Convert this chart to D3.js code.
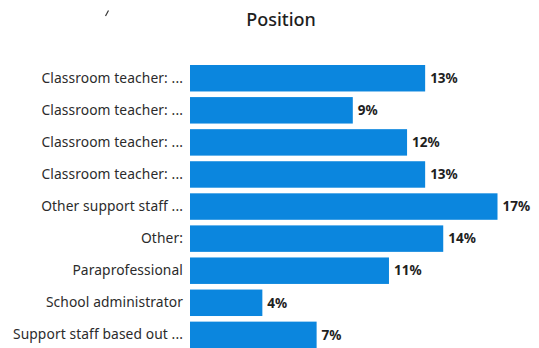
<!DOCTYPE html>
<html>
<head>
<meta charset="utf-8">
<script src="https://cdn.jsdelivr.net/npm/d3@7"></script>
<style>
  html, body { margin: 0; padding: 0; background: #ffffff; }
  svg { display: block; }
  .cat text { font-family: "Noto Sans", "Open Sans", sans-serif; font-size: 13.8px; fill: #2b2b2b; letter-spacing: 0.1px; }
  .val { font-family: "Noto Sans", "Open Sans", sans-serif; font-size: 13.5px; font-weight: 700; fill: #1e1e1e; }
  .title { font-family: "Noto Sans", "Open Sans", sans-serif; font-size: 18px; font-weight: 500; fill: #1e1e1e; }
</style>
</head>
<body>
<svg id="chart" width="539" height="348"></svg>
<script>
// Share of respondents by position
const categories = [
  "Classroom teacher: ...",
  "Classroom teacher: ...",
  "Classroom teacher: ...",
  "Classroom teacher: ...",
  "Other support staff ...",
  "Other:",
  "Paraprofessional",
  "School administrator",
  "Support staff based out ..."
];
const values = [13, 9, 12, 13, 17, 14, 11, 4, 7];
const titleText = "Position";

const svg = d3.select("#chart");
const barColor = "#0b86de";

const x = d3.scaleLinear().domain([0, 17]).range([190, 497.5]);
const y = d3.scaleBand()
  .domain(d3.range(categories.length))
  .range([62.2, 350.9])
  .paddingInner(0.175)
  .paddingOuter(0.0875);

svg.append("text")
  .attr("class", "title")
  .attr("x", 281)
  .attr("y", 26)
  .attr("text-anchor", "middle")
  .text(titleText);

// small pen stroke near the top-left corner
svg.append("path")
  .attr("d", "M105.5,16 L108.5,10.5")
  .attr("stroke", "#333")
  .attr("stroke-width", 1.2)
  .attr("fill", "none");

svg.append("g")
  .selectAll("rect")
  .data(values)
  .join("rect")
  .attr("x", x(0))
  .attr("y", (d, i) => y(i))
  .attr("width", d => x(d) - x(0))
  .attr("height", y.bandwidth())
  .attr("fill", barColor);

svg.append("g")
  .selectAll("text")
  .data(values)
  .join("text")
  .attr("class", "val")
  .attr("x", d => x(d) + 5)
  .attr("y", (d, i) => y(i) + y.bandwidth() / 2)
  .attr("dy", "0.35em")
  .text(d => d + "%");

const axis = d3.axisLeft(y)
  .tickSize(0)
  .tickPadding(7)
  .tickFormat(i => categories[i]);

svg.append("g")
  .attr("class", "cat")
  .attr("transform", `translate(${x(0)},0)`)
  .call(axis)
  .call(g => g.select(".domain").remove())
  .call(g => g.selectAll("text").attr("font-family", null).attr("font-size", null));
</script>
</body>
</html>
